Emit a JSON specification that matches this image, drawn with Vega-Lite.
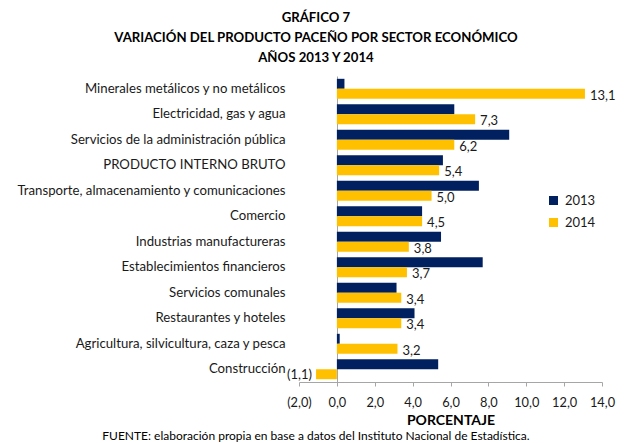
{
  "$schema": "https://vega.github.io/schema/vega-lite/v6.json",
  "autosize": {"type": "pad"},
  "padding": {"left": 16, "top": 10, "right": 0, "bottom": 0},
  "title": {
    "text": ["GRÁFICO 7", "VARIACIÓN DEL PRODUCTO PACEÑO POR SECTOR ECONÓMICO", "AÑOS 2013 Y 2014"],
    "font": "Lato", "fontSize": 13.2, "fontWeight": "bold", "lineHeight": 20, "color": "#000000",
    "anchor": "middle", "offset": 11
  },
  "config": {
    "locale": {"number": {"decimal": ",", "thousands": ".", "grouping": [3], "currency": ["", ""]}},
    "view": {"stroke": null},
    "font": "Lato"
  },
  "vconcat": [
    {
      "width": 303,
      "height": 306,
      "title": {
        "text": "FUENTE: elaboración propia en base a datos del Instituto Nacional de Estadística.",
        "orient": "bottom", "frame": "bounds", "font": "Lato", "fontSize": 12, "fontWeight": "normal", "color": "#000000",
        "anchor": "middle", "offset": 3
      },
      "data": {
        "values": [
          {"sector": "Minerales metálicos y no metálicos", "year": "2013", "value": 0.4},
          {"sector": "Minerales metálicos y no metálicos", "year": "2014", "value": 13.1},
          {"sector": "Electricidad, gas y agua", "year": "2013", "value": 6.2},
          {"sector": "Electricidad, gas y agua", "year": "2014", "value": 7.3},
          {"sector": "Servicios de la administración pública", "year": "2013", "value": 9.1},
          {"sector": "Servicios de la administración pública", "year": "2014", "value": 6.2},
          {"sector": "PRODUCTO INTERNO BRUTO", "year": "2013", "value": 5.6},
          {"sector": "PRODUCTO INTERNO BRUTO", "year": "2014", "value": 5.4},
          {"sector": "Transporte, almacenamiento y comunicaciones", "year": "2013", "value": 7.5},
          {"sector": "Transporte, almacenamiento y comunicaciones", "year": "2014", "value": 5.0},
          {"sector": "Comercio", "year": "2013", "value": 4.5},
          {"sector": "Comercio", "year": "2014", "value": 4.5},
          {"sector": "Industrias manufactureras", "year": "2013", "value": 5.5},
          {"sector": "Industrias manufactureras", "year": "2014", "value": 3.8},
          {"sector": "Establecimientos financieros", "year": "2013", "value": 7.7},
          {"sector": "Establecimientos financieros", "year": "2014", "value": 3.7},
          {"sector": "Servicios comunales", "year": "2013", "value": 3.15},
          {"sector": "Servicios comunales", "year": "2014", "value": 3.4},
          {"sector": "Restaurantes y hoteles", "year": "2013", "value": 4.1},
          {"sector": "Restaurantes y hoteles", "year": "2014", "value": 3.4},
          {"sector": "Agricultura, silvicultura, caza y pesca", "year": "2013", "value": 0.15},
          {"sector": "Agricultura, silvicultura, caza y pesca", "year": "2014", "value": 3.2},
          {"sector": "Construcción", "year": "2013", "value": 5.35},
          {"sector": "Construcción", "year": "2014", "value": -1.1}
        ]
      },
      "encoding": {
        "y": {
          "field": "sector", "type": "nominal", "sort": null,
          "scale": {"paddingInner": 0.22, "paddingOuter": 0.11},
          "axis": {
            "title": null, "offset": -38, "ticks": false, "labelPadding": 52,
            "labelFont": "Lato", "labelFontSize": 13.2, "labelColor": "#1a1a1a",
            "domainColor": "#a6a6a6", "labelLimit": 400
          }
        },
        "yOffset": {"field": "year", "type": "nominal", "scale": {"paddingInner": 0}},
        "x": {
          "field": "value", "type": "quantitative",
          "scale": {"domain": [-2, 14], "nice": false, "zero": false},
          "axis": {
            "title": "PORCENTAJE", "titleFont": "Lato", "titleFontSize": 14, "titleFontWeight": "bold",
            "titleColor": "#000000", "titlePadding": 5,
            "values": [-2, 0, 2, 4, 6, 8, 10, 12, 14], "format": "(.1f", "labelOverlap": false, "labelFlush": false,
            "grid": false, "domainColor": "#a6a6a6", "tickColor": "#a6a6a6", "tickSize": 4,
            "labelFont": "Lato", "labelFontSize": 12.8, "labelColor": "#1a1a1a", "labelPadding": 10
          }
        }
      },
      "layer": [
        {
          "mark": {"type": "bar"},
          "encoding": {
            "color": {
              "field": "year", "type": "nominal",
              "scale": {"domain": ["2013", "2014"], "range": ["#002060", "#FFC000"]},
              "legend": {
                "title": null, "orient": "none", "legendX": 248, "legendY": 118,
                "symbolType": "square", "symbolSize": 81, "symbolStrokeWidth": 0,
                "labelFont": "Lato", "labelFontSize": 13, "labelColor": "#1a1a1a",
                "rowPadding": 8, "labelOffset": 5
              }
            }
          }
        },
        {
          "transform": [{"filter": "datum.year == '2014' && datum.value >= 0"}],
          "mark": {"type": "text", "align": "left", "dx": 5, "dy": 2, "fontSize": 13, "font": "Lato", "color": "#1a1a1a"},
          "encoding": {
            "text": {"field": "value", "type": "quantitative", "format": "(.1f"},
            "fontWeight": {
              "condition": {"test": "datum.sector == 'PRODUCTO INTERNO BRUTO'", "value": "bold"},
              "value": "normal"
            }
          }
        },
        {
          "transform": [{"filter": "datum.year == '2014' && datum.value < 0"}],
          "mark": {"type": "text", "align": "right", "dx": -4, "dy": 1, "fontSize": 13, "font": "Lato", "color": "#1a1a1a"},
          "encoding": {
            "text": {"field": "value", "type": "quantitative", "format": "(.1f"}
          }
        }
      ]
    }
  ]
}
